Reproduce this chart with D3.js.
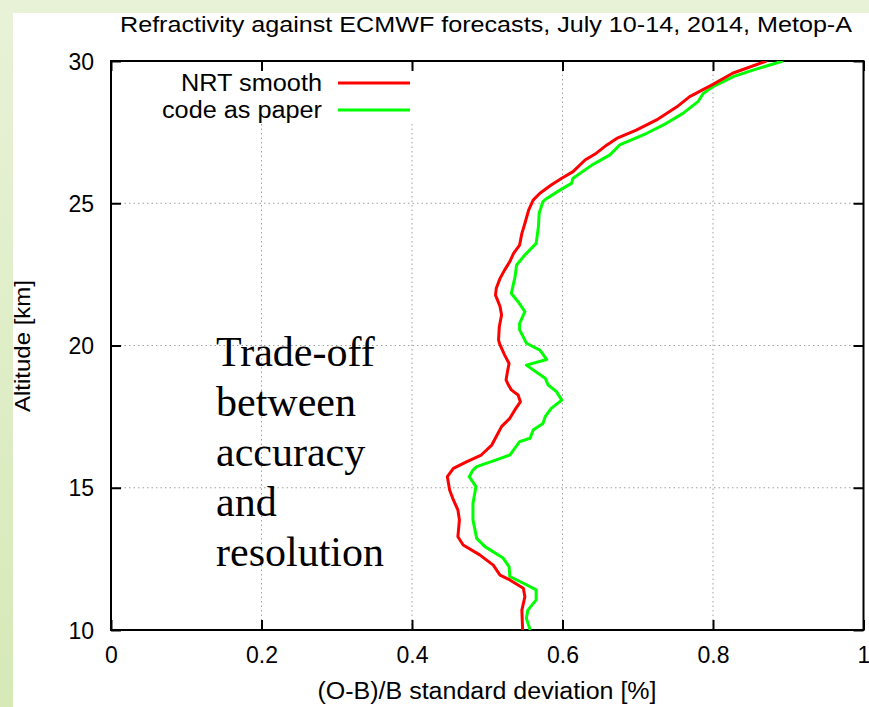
<!DOCTYPE html>
<html>
<head>
<meta charset="utf-8">
<script src="https://cdn.jsdelivr.net/npm/d3@7"></script>
<style>
  html, body { margin: 0; padding: 0; }
  body { width: 869px; height: 707px; overflow: hidden; }
</style>
</head>
<body>
<script>
// Refractivity O-B statistics, Metop-A, July 10-14 2014
const nrtAlt = [10.0, 10.70, 11.17, 11.47, 11.76, 11.93, 12.28, 12.64, 12.99, 13.28, 13.87, 14.22, 14.57, 14.92, 15.39, 15.68, 15.92, 16.15, 16.50, 16.80, 17.15, 17.44, 17.79, 18.02, 18.26, 18.44, 18.62, 18.79, 19.10, 19.37, 19.67, 20.02, 20.19, 20.66, 21.07, 21.37, 21.77, 22.01, 22.36, 22.65, 22.95, 23.24, 23.53, 23.94, 24.29, 24.76, 25.11, 25.35, 25.64, 25.88, 26.11, 26.52, 26.76, 27.05, 27.28, 27.57, 27.93, 28.39, 28.75, 29.18, 29.57, 30.0];
const nrtSd  = [0.547, 0.546, 0.550, 0.548, 0.530, 0.517, 0.508, 0.490, 0.468, 0.461, 0.463, 0.461, 0.455, 0.450, 0.447, 0.455, 0.473, 0.492, 0.506, 0.512, 0.519, 0.530, 0.538, 0.544, 0.541, 0.532, 0.528, 0.525, 0.527, 0.529, 0.523, 0.517, 0.515, 0.516, 0.519, 0.517, 0.511, 0.512, 0.517, 0.523, 0.530, 0.535, 0.543, 0.546, 0.550, 0.555, 0.561, 0.570, 0.585, 0.599, 0.614, 0.630, 0.645, 0.659, 0.672, 0.698, 0.725, 0.752, 0.769, 0.800, 0.826, 0.871];

const paperAlt = [10.0, 10.41, 10.70, 11.06, 11.41, 11.59, 11.88, 12.23, 12.53, 12.93, 13.22, 13.87, 14.45, 15.04, 15.39, 15.62, 15.74, 15.98, 16.15, 16.62, 16.74, 17.03, 17.26, 17.50, 17.79, 18.08, 18.38, 18.61, 18.85, 19.31, 19.51, 19.84, 20.08, 20.19, 20.55, 20.78, 21.19, 21.54, 21.83, 22.42, 22.83, 23.18, 23.59, 24.18, 24.65, 25.06, 25.17, 25.47, 25.70, 25.88, 26.34, 26.70, 27.05, 27.46, 27.81, 28.16, 28.57, 28.86, 29.10, 29.45, 29.68, 30.0];
const paperSd  = [0.557, 0.552, 0.554, 0.565, 0.565, 0.552, 0.530, 0.529, 0.521, 0.497, 0.486, 0.481, 0.481, 0.485, 0.476, 0.481, 0.486, 0.512, 0.530, 0.543, 0.557, 0.561, 0.574, 0.577, 0.585, 0.599, 0.592, 0.581, 0.577, 0.552, 0.579, 0.570, 0.552, 0.550, 0.543, 0.543, 0.550, 0.541, 0.532, 0.537, 0.539, 0.550, 0.565, 0.568, 0.569, 0.574, 0.579, 0.597, 0.612, 0.614, 0.639, 0.663, 0.676, 0.712, 0.738, 0.760, 0.780, 0.787, 0.800, 0.827, 0.853, 0.893];

const seriesNames = ["NRT smooth", "code as paper"];
const seriesColors = ["#ff0000", "#00ff00"];
const xTicks = [0, 0.2, 0.4, 0.6, 0.8, 1];
const xTickLabels = ["0", "0.2", "0.4", "0.6", "0.8", "1"];
const yTicks = [10, 15, 20, 25, 30];
const titleText = "Refractivity against ECMWF forecasts, July 10-14, 2014, Metop-A";
const xLabelText = "(O-B)/B standard deviation [%]";
const yLabelText = "Altitude [km]";
const noteLines = ["Trade-off", "between", "accuracy", "and", "resolution"];

const W = 869, H = 707;
const plot = { left: 111, right: 863.5, top: 61, bottom: 630 };

const svg = d3.select("body").append("svg")
  .attr("width", W).attr("height", H)
  .style("display", "block");

// page backdrop: pale green frame around a white panel
const defs = svg.append("defs");
const grad = defs.append("linearGradient").attr("id", "bg")
  .attr("x1", 0).attr("y1", 0).attr("x2", 0).attr("y2", 1);
grad.append("stop").attr("offset", "0%").attr("stop-color", "#e8f2d7");
grad.append("stop").attr("offset", "100%").attr("stop-color", "#d6e9b7");
svg.append("rect").attr("width", W).attr("height", H).attr("fill", "url(#bg)");
svg.append("rect").attr("x", 13).attr("y", 13).attr("width", W - 13).attr("height", H - 13).attr("fill", "#ffffff");

defs.append("clipPath").attr("id", "plotclip").append("rect")
  .attr("x", plot.left).attr("y", plot.top)
  .attr("width", plot.right - plot.left).attr("height", plot.bottom - plot.top);

const x = d3.scaleLinear().domain([0, 1]).range([plot.left, plot.right]);
const y = d3.scaleLinear().domain([10, 30]).range([plot.bottom, plot.top]);

const sans = "'Liberation Sans', Arial, Helvetica, sans-serif";
const serif = "'Liberation Serif', 'Times New Roman', serif";

// grid
const grid = svg.append("g").attr("stroke", "#a0a0a0").attr("stroke-width", 1)
  .attr("stroke-dasharray", "1.5,3");
xTicks.filter(t => t > 0 && t < 1).forEach(t => {
  grid.append("line").attr("x1", x(t)).attr("x2", x(t))
    .attr("y1", plot.top).attr("y2", plot.bottom);
});
yTicks.filter(t => t > 10 && t < 30).forEach(t => {
  grid.append("line").attr("x1", plot.left).attr("x2", plot.right)
    .attr("y1", y(t)).attr("y2", y(t));
});

// legend backing box hides the grid behind the key
svg.append("rect").attr("x", 150).attr("y", 70).attr("width", 264).attr("height", 53)
  .attr("fill", "#ffffff");

// axes with inward ticks, mirrored on the opposite sides
const tickLen = 10;
const bottomAxis = d3.axisBottom(x).tickValues(xTicks).tickSize(-tickLen).tickPadding(tickLen + 7)
  .tickFormat((d, i) => xTickLabels[i]);
const topAxis = d3.axisTop(x).tickValues(xTicks).tickSize(-tickLen).tickFormat("");
const leftAxis = d3.axisLeft(y).tickValues(yTicks).tickSize(-tickLen).tickPadding(tickLen + 7)
  .tickFormat(d3.format("d"));
const rightAxis = d3.axisRight(y).tickValues(yTicks).tickSize(-tickLen).tickFormat("");

function styleAxis(g) {
  g.select(".domain").remove();
  g.selectAll(".tick line").attr("stroke", "#000").attr("stroke-width", 2);
  g.selectAll(".tick text").attr("fill", "#000").style("font-family", sans).style("font-size", "23px");
}
svg.append("g").attr("transform", `translate(0,${plot.bottom})`).call(bottomAxis).call(styleAxis);
svg.append("g").attr("transform", `translate(0,${plot.top})`).call(topAxis).call(styleAxis);
svg.append("g").attr("transform", `translate(${plot.left},0)`).call(leftAxis).call(styleAxis)
  .selectAll(".tick text").attr("dy", "0.35em");
svg.append("g").attr("transform", `translate(${plot.right},0)`).call(rightAxis).call(styleAxis);

// frame
svg.append("rect").attr("x", plot.left).attr("y", plot.top)
  .attr("width", plot.right - plot.left).attr("height", plot.bottom - plot.top)
  .attr("fill", "none").attr("stroke", "#000").attr("stroke-width", 2);

// profiles
const line = d3.line().x(d => x(d[1])).y(d => y(d[0])).curve(d3.curveLinear);
const series = [
  d3.zip(nrtAlt, nrtSd),
  d3.zip(paperAlt, paperSd)
];
const linesG = svg.append("g").attr("clip-path", "url(#plotclip)");
// draw the green one first so the red profile sits on top
[1, 0].forEach(i => {
  linesG.append("path").datum(series[i])
    .attr("fill", "none").attr("stroke", seriesColors[i])
    .attr("stroke-width", 3).attr("stroke-linejoin", "round")
    .attr("d", line);
});

// key
const keyWidths = [141, 160];
seriesNames.forEach((name, i) => {
  const ky = 83 + i * 27;
  svg.append("text").attr("x", 322).attr("y", ky).attr("dy", "0.35em")
    .attr("text-anchor", "end").style("font-family", sans).style("font-size", "23px")
    .attr("textLength", keyWidths[i]).attr("lengthAdjust", "spacingAndGlyphs")
    .text(name);
  svg.append("line").attr("x1", 338).attr("x2", 410).attr("y1", ky).attr("y2", ky)
    .attr("stroke", seriesColors[i]).attr("stroke-width", 3);
});

// title and axis labels
svg.append("text").attr("x", 486).attr("y", 32).attr("text-anchor", "middle")
  .style("font-family", sans).style("font-size", "22px")
  .attr("textLength", 732).attr("lengthAdjust", "spacingAndGlyphs")
  .text(titleText);
svg.append("text").attr("x", 487).attr("y", 699).attr("text-anchor", "middle")
  .style("font-family", sans).style("font-size", "23px")
  .attr("textLength", 339).attr("lengthAdjust", "spacingAndGlyphs")
  .text(xLabelText);
svg.append("text").attr("transform", "translate(30,346) rotate(-90)").attr("text-anchor", "middle")
  .style("font-family", sans).style("font-size", "22px")
  .attr("textLength", 132).attr("lengthAdjust", "spacingAndGlyphs")
  .text(yLabelText);

// annotation
const note = svg.append("text").style("font-family", serif).style("font-size", "42px").attr("fill", "#000");
noteLines.forEach((t, i) => {
  note.append("tspan").attr("x", 216).attr("y", 366 + i * 50).text(t);
});
</script>
</body>
</html>
